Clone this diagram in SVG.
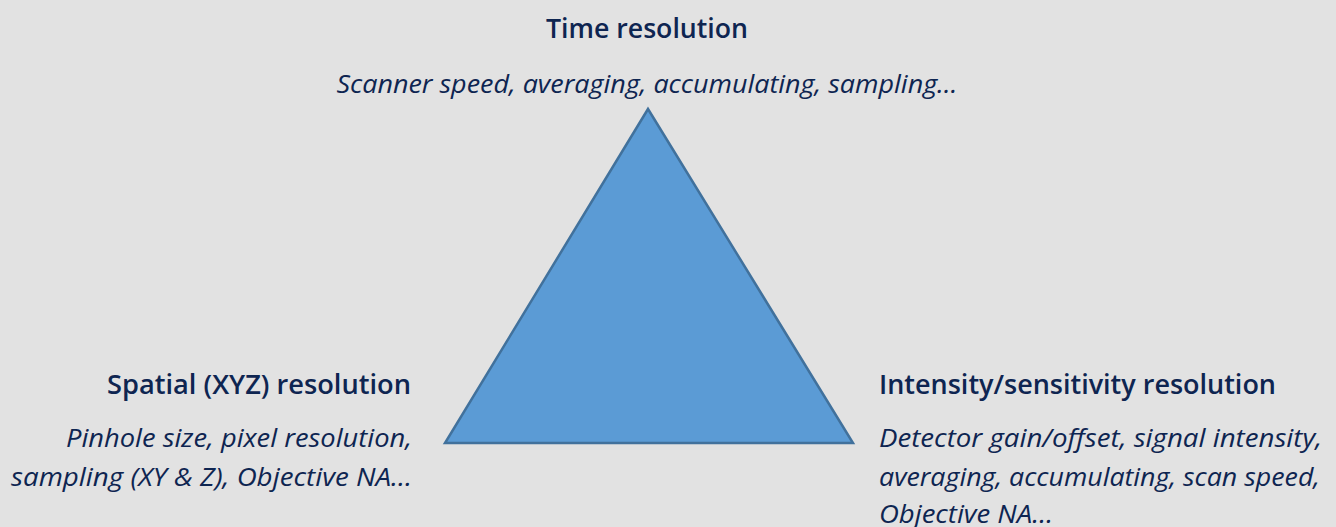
<svg xmlns="http://www.w3.org/2000/svg" width="1336" height="527" viewBox="0 0 1336 527">
<style>
.t{font-family:"Open Sans","Noto Sans",sans-serif;font-weight:600;font-size:27px;fill:#0E2551}
.s{font-family:"Open Sans","Noto Sans",sans-serif;font-style:italic;font-size:26px;fill:#0E2551}
.tri{fill:#5B9BD5;stroke:#41719C;stroke-width:2.5;stroke-linejoin:miter}
</style>
<rect width="1336" height="527" fill="#E2E2E2"/>
<g id="triangle"><polygon class="tri" points="648,109 445,443 853,443"/></g>
<g id="time">
<text class="t" x="647" y="38" text-anchor="middle" textLength="202" lengthAdjust="spacingAndGlyphs">Time resolution</text>
<text class="s" x="647" y="93" text-anchor="middle" textLength="621" lengthAdjust="spacingAndGlyphs">Scanner speed, averaging, accumulating, sampling…</text>
</g>
<g id="spatial">
<text class="t" x="411" y="394" text-anchor="end" textLength="304" lengthAdjust="spacingAndGlyphs">Spatial (XYZ) resolution</text>
<text class="s" x="412" y="447" text-anchor="end" textLength="346" lengthAdjust="spacingAndGlyphs">Pinhole size, pixel resolution,</text>
<text class="s" x="412" y="486" text-anchor="end" textLength="401" lengthAdjust="spacingAndGlyphs">sampling (XY &amp; Z), Objective NA…</text>
</g>
<g id="intensity">
<text class="t" x="879" y="394" textLength="397" lengthAdjust="spacingAndGlyphs">Intensity/sensitivity resolution</text>
<text class="s" x="879" y="447" textLength="443" lengthAdjust="spacingAndGlyphs">Detector gain/offset, signal intensity,</text>
<text class="s" x="879" y="486" textLength="441" lengthAdjust="spacingAndGlyphs">averaging, accumulating, scan speed,</text>
<text class="s" x="879" y="523" textLength="174" lengthAdjust="spacingAndGlyphs">Objective NA…</text>
</g>
<g id="connectors"/>
</svg>
